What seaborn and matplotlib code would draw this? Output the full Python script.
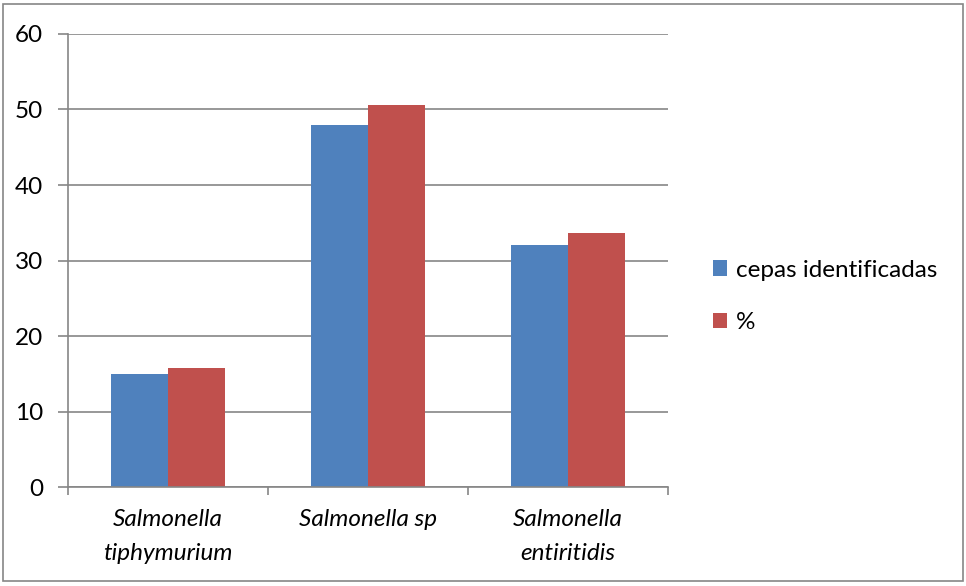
import matplotlib
matplotlib.use("Agg")
import matplotlib.pyplot as plt
import seaborn as sns
import pandas as pd
from matplotlib.patches import Rectangle, Patch

categories = ["Salmonella\ntiphymurium", "Salmonella sp", "Salmonella\nentiritidis"]
cepas = [15, 48, 32]
porcentaje = [15.79, 50.53, 33.68]
series_names = ["cepas identificadas", "%"]
colors = ["#4F81BD", "#C0504D"]
yticks = [0, 10, 20, 30, 40, 50, 60]

df = pd.DataFrame({
    "categoria": categories * 2,
    "valor": cepas + porcentaje,
    "serie": [series_names[0]] * 3 + [series_names[1]] * 3,
})

sns.set_theme(style="white")
plt.rcParams["font.family"] = ["Lato", "DejaVu Sans"]
plt.rcParams["text.color"] = "black"
plt.rcParams["xtick.color"] = "black"
plt.rcParams["ytick.color"] = "black"

fs = 17.5

fig = plt.figure(figsize=(9.66, 5.86), dpi=100)
ax = fig.add_axes([0.0704, 0.1689, 0.6211, 0.7731])

sns.barplot(data=df, x="categoria", y="valor", hue="serie", palette=colors,
            width=0.57, gap=0, ax=ax, legend=False, saturation=1,
            edgecolor="none", linewidth=0)

ax.set_xlim(-0.5, 2.5)
ax.set_ylim(0, 60)
ax.set_yticks(yticks)
ax.set_yticklabels([str(v) for v in yticks], fontsize=fs)
ax.yaxis.grid(True, color="#868686", linewidth=1.2)
ax.set_axisbelow(True)
ax.set_xlabel("")
ax.set_ylabel("")

for s in ["top", "right"]:
    ax.spines[s].set_visible(False)
for s in ["left", "bottom"]:
    ax.spines[s].set_color("#868686")
    ax.spines[s].set_linewidth(1.2)

ax.tick_params(axis="y", which="major", direction="out", length=7, width=1.2,
               color="#868686", labelcolor="black", pad=11, left=True)
ax.set_xticks([0, 1, 2])
ax.set_xticklabels(categories, fontsize=fs, style="italic", linespacing=1.75)
ax.tick_params(axis="x", which="major", length=0, pad=16, labelcolor="black")
ax.set_xticks([-0.5, 0.5, 1.5, 2.5], minor=True)
ax.tick_params(axis="x", which="minor", direction="out", length=6, width=1.2,
               color="#868686", bottom=True)

handles = [Patch(facecolor=c, edgecolor="none") for c in colors]
fig.legend(handles, series_names, loc="center left", bbox_to_anchor=(0.715, 0.494),
           frameon=False, fontsize=fs, handlelength=0.6, handleheight=0.6,
           handletextpad=0.35, labelspacing=1.3)

fig.patches.append(Rectangle((0.003, 0.008), 0.994, 0.986, transform=fig.transFigure,
                             fill=False, edgecolor="#868686", linewidth=1.2))

fig.savefig("out.png", dpi=100)
